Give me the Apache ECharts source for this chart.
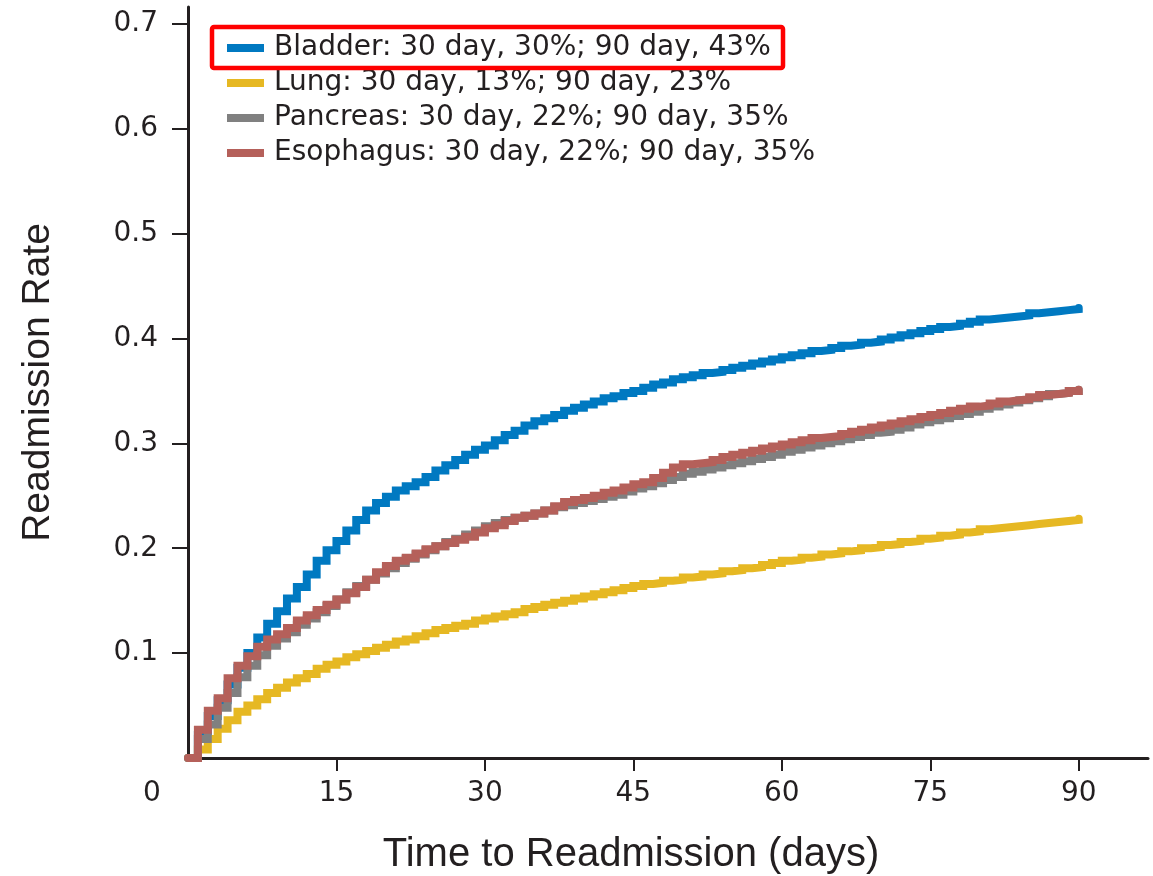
<!DOCTYPE html>
<html>
<head>
<meta charset="utf-8">
<script src="https://cdn.jsdelivr.net/npm/echarts@6/dist/echarts.min.js"></script>
<style>
  html, body { margin: 0; padding: 0; background: #ffffff; }
  #chart { width: 1153px; height: 876px; }
</style>
</head>
<body>
<div id="chart"></div>
<script>
// ---- Data ----
const days = [0,1,2,3,4,5,6,7,8,9,10,11,12,13,14,15,16,17,18,19,20,21,22,23,24,25,26,27,28,29,30,
  31,32,33,34,35,36,37,38,39,40,41,42,43,44,45,46,47,48,49,50,51,52,53,54,55,56,57,58,59,60,
  61,62,63,64,65,66,67,68,69,70,71,72,73,74,75,76,77,78,79,80,81,82,83,84,85,86,87,88,89,90];

const seriesNames = [
  'Bladder: 30 day, 30%; 90 day, 43%',
  'Lung: 30 day, 13%; 90 day, 23%',
  'Pancreas: 30 day, 22%; 90 day, 35%',
  'Esophagus: 30 day, 22%; 90 day, 35%'
];

const bladder = [0,0.022,0.040,0.055,0.070,0.086,0.100,0.115,0.128,0.140,0.152,0.163,0.175,0.188,0.198,0.207,
  0.217,0.227,0.236,0.243,0.249,0.255,0.259,0.263,0.268,0.274,0.279,0.284,0.289,0.294,0.298,
  0.303,0.308,0.312,0.317,0.321,0.324,0.327,0.331,0.334,0.337,0.340,0.343,0.345,0.348,0.350,
  0.353,0.356,0.358,0.361,0.363,0.365,0.367,0.368,0.370,0.372,0.374,0.376,0.378,0.380,0.382,
  0.384,0.386,0.388,0.389,0.391,0.393,0.394,0.396,0.397,0.399,0.401,0.403,0.405,0.407,0.409,
  0.411,0.412,0.414,0.416,0.418,0.419,0.420,0.421,0.422,0.424,0.425,0.426,0.427,0.428,0.429];

const lung = [0,0.008,0.018,0.028,0.036,0.044,0.050,0.056,0.062,0.067,0.072,0.076,0.080,0.085,0.089,0.092,
  0.096,0.099,0.102,0.105,0.108,0.111,0.113,0.116,0.119,0.122,0.124,0.126,0.128,0.131,0.133,
  0.135,0.137,0.139,0.142,0.144,0.146,0.148,0.150,0.152,0.154,0.156,0.158,0.160,0.162,0.164,
  0.166,0.167,0.169,0.170,0.172,0.173,0.175,0.176,0.178,0.179,0.181,0.182,0.184,0.186,0.188,
  0.189,0.191,0.192,0.194,0.195,0.197,0.198,0.200,0.201,0.203,0.204,0.206,0.207,0.209,0.210,
  0.212,0.213,0.215,0.216,0.218,0.219,0.220,0.221,0.222,0.223,0.224,0.225,0.226,0.227,0.228];

const pancreas = [0,0.018,0.032,0.048,0.062,0.077,0.088,0.098,0.107,0.114,0.120,0.127,0.133,0.139,0.145,0.151,
  0.158,0.164,0.170,0.176,0.181,0.186,0.190,0.194,0.198,0.202,0.206,0.209,0.213,0.217,0.221,
  0.224,0.227,0.229,0.231,0.233,0.236,0.239,0.241,0.243,0.245,0.247,0.249,0.251,0.254,0.257,
  0.259,0.262,0.265,0.268,0.271,0.273,0.275,0.277,0.279,0.281,0.283,0.285,0.287,0.289,0.292,
  0.294,0.296,0.298,0.300,0.302,0.304,0.306,0.308,0.310,0.311,0.313,0.315,0.318,0.320,0.322,
  0.324,0.326,0.328,0.330,0.333,0.335,0.337,0.339,0.341,0.343,0.345,0.347,0.348,0.350,0.351];

const esophagus = [0,0.027,0.045,0.057,0.076,0.088,0.097,0.106,0.113,0.118,0.124,0.131,0.136,0.141,0.146,0.151,
  0.157,0.163,0.170,0.177,0.183,0.188,0.191,0.195,0.199,0.202,0.205,0.208,0.211,0.215,0.219,
  0.222,0.226,0.229,0.231,0.233,0.236,0.240,0.244,0.246,0.248,0.250,0.253,0.255,0.258,0.261,
  0.263,0.267,0.272,0.277,0.280,0.281,0.282,0.284,0.287,0.289,0.291,0.293,0.295,0.297,0.299,
  0.301,0.303,0.305,0.306,0.307,0.309,0.311,0.313,0.315,0.317,0.319,0.321,0.323,0.325,0.327,
  0.329,0.331,0.333,0.335,0.336,0.338,0.340,0.341,0.342,0.344,0.346,0.347,0.348,0.350,0.351];

const xTicks = [0, 15, 30, 45, 60, 75, 90];
const yTicks = [0.1, 0.2, 0.3, 0.4, 0.5, 0.6, 0.7];
const xTitle = 'Time to Readmission (days)';
const yTitle = 'Readmission Rate';

// ---- Chart ----
const colors = ['#0079C1', '#E6B823', '#808080', '#B5605A'];
const valueSets = [bladder, lung, pancreas, esophagus];
const textColor = '#231F20';
const tickFont = '"DejaVu Sans", sans-serif';

function pairs(vals) { return days.map((d, i) => [d, vals[i]]); }

const chart = echarts.init(document.getElementById('chart'), null, { renderer: 'canvas' });

chart.setOption({
  animation: false,
  backgroundColor: '#ffffff',
  grid: { left: 188, right: 5, top: 7, bottom: 118, containLabel: false, outerBoundsMode: 'none' },
  legend: {
    orient: 'vertical',
    left: 227,
    top: 34,
    padding: 0,
    itemGap: 7,
    itemWidth: 37,
    itemHeight: 8,
    icon: 'rect',
    selectedMode: false,
    textStyle: {
      fontFamily: tickFont,
      fontSize: 28,
      lineHeight: 28,
      color: textColor,
      padding: [0, 0, 0, 5]
    },
    data: seriesNames
  },
  xAxis: {
    type: 'value',
    min: 0,
    max: 97,
    splitLine: { show: false },
    axisLine: { show: true, onZero: false, lineStyle: { color: textColor, width: 3 } },
    axisTick: { show: true, length: 13, customValues: xTicks.filter(v => v !== 0), lineStyle: { color: textColor, width: 2 } },
    axisLabel: {
      customValues: xTicks,
      margin: 22,
      fontFamily: tickFont,
      fontSize: 28,
      color: textColor,
      formatter: v => (v === 0 ? '{z|0}' : String(v)),
      rich: { z: { fontFamily: tickFont, fontSize: 28, color: textColor, padding: [0, 72, 0, 0] } }
    },
    name: xTitle,
    nameLocation: 'middle',
    nameGap: 77,
    nameTextStyle: {
      fontFamily: '"Liberation Sans", Arial, sans-serif',
      fontSize: 40,
      color: textColor,
      padding: [0, 74, 0, 0]
    }
  },
  yAxis: {
    type: 'value',
    min: 0,
    max: 0.716,
    splitLine: { show: false },
    axisLine: { show: true, onZero: false, lineStyle: { color: textColor, width: 3 } },
    axisTick: { show: true, length: 16, customValues: yTicks, lineStyle: { color: textColor, width: 2 } },
    axisLabel: {
      customValues: yTicks,
      margin: 30,
      fontFamily: tickFont,
      fontSize: 28,
      color: textColor,
      formatter: v => v.toFixed(1)
    },
    name: yTitle,
    nameLocation: 'middle',
    nameGap: 130,
    nameRotate: 90,
    nameTextStyle: {
      fontFamily: '"Liberation Sans", Arial, sans-serif',
      fontSize: 39,
      color: textColor
    }
  },
  graphic: [
    {
      type: 'rect',
      left: 209.5,
      top: 24.5,
      shape: { x: 0, y: 0, width: 571, height: 41, r: 2 },
      style: { fill: 'none', stroke: '#FF0000', lineWidth: 4.5 },
      z: 100
    }
  ],
  series: seriesNames.map((name, i) => ({
    name: name,
    type: 'line',
    step: 'end',
    showSymbol: false,
    symbol: 'none',
    color: colors[i],
    lineStyle: { width: 8, color: colors[i], cap: 'round', join: 'miter' },
    data: pairs(valueSets[i]),
    z: 2 + i
  }))
});
</script>
</body>
</html>
